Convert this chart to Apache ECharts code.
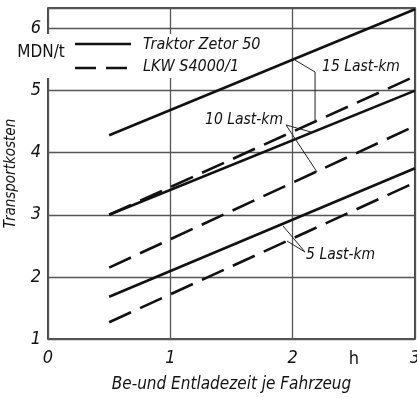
<!DOCTYPE html>
<html>
<head>
<meta charset="utf-8">
<script src="https://cdn.jsdelivr.net/npm/echarts@6/dist/echarts.min.js"></script>
<style>
html,body{margin:0;padding:0;background:#fff;}
#chart{width:417px;height:398px;}
</style>
</head>
<body>
<div id="chart"></div>
<script>
/*数据*/
var xs = [0.5, 3];
var traktor15 = [4.28, 6.31];
var traktor10 = [3.0, 5.0];
var traktor5 = [1.68, 3.75];
var lkw15 = [3.0, 5.23];
var lkw10 = [2.15, 4.43];
var lkw5 = [1.27, 3.52];
var legendNames = ['Traktor Zetor 50', 'LKW S4000/1'];
var yTicks = ['1', '2', '3', '4', '5', '6'];
var xTicks = ['0', '1', '2', '3'];

/*标注线*/
var leaders = [
	[[2.02, 5.49], [2.183, 5.30], [2.183, 4.494]],
	[[1.946, 4.446], [2.15, 4.333]],
	[[1.946, 4.446], [2.199, 3.689]],
	[[2.101, 2.401], [1.921, 2.82]],
	[[2.101, 2.401], [1.954, 2.578]]
];
var notes = [
	{text: '15 Last-km', at: [2.24, 5.38], align: 'left'},
	{text: '10 Last-km', at: [1.921, 4.527], align: 'right'},
	{text: '5 Last-km', at: [2.11, 2.353], align: 'left'}
];

var font = "'Liberation Sans Narrow','DejaVu Sans Condensed',sans-serif";

function pts(arr){
	var out = [];
	for(var i=0;i<xs.length;i++){
		out.push([xs[i], arr[i]]);
	}
	return out;
}
function mainLine(name, arr, dashed){
	return {
		name: name,
		type: 'line',
		data: pts(arr),
		showSymbol: false,
		symbol: 'none',
		silent: true,
		z: 3,
		itemStyle: {color: '#111'},
		lineStyle: {color: '#111', width: 2.6, type: dashed ? [24, 10] : 'solid'}
	};
}

var series = [
	mainLine(legendNames[0], traktor15, false),
	mainLine(legendNames[0], traktor10, false),
	mainLine(legendNames[0], traktor5, false),
	mainLine(legendNames[1], lkw15, true),
	mainLine(legendNames[1], lkw10, true),
	mainLine(legendNames[1], lkw5, true)
];
for(var i=0;i<leaders.length;i++){
	series.push({
		name: 'leader' + i,
		type: 'line',
		data: leaders[i],
		showSymbol: false,
		symbol: 'none',
		silent: true,
		z: 3,
		lineStyle: {color: '#222', width: 1}
	});
}

var myChart = echarts.init(document.getElementById('chart'));
var option = {
	animation: false,
	backgroundColor: '#fff',
	grid: {
		left: 48, right: 2, top: 8, bottom: 59,
		outerBoundsMode: 'none',
		containLabel: false,
		show: true, borderColor: '#1a1a1a', borderWidth: 1.6
	},
	xAxis: {
		type: 'value',
		min: 0, max: 3, interval: 1,
		name: 'Be-und Entladezeit je Fahrzeug',
		nameLocation: 'middle',
		nameGap: 37,
		nameTextStyle: {fontFamily: font, fontStyle: 'italic', fontSize: 17, color: '#111'},
		axisLine: {show: false},
		axisTick: {show: false},
		splitLine: {lineStyle: {color: '#555', width: 1.3}},
		axisLabel: {
			margin: 10,
			fontFamily: font, fontStyle: 'italic', fontSize: 18, color: '#111',
			formatter: function(v){ return xTicks[v] !== undefined ? xTicks[v] : ''; }
		}
	},
	yAxis: {
		type: 'value',
		min: 1, max: 6.33, interval: 1,
		name: 'Transportkosten',
		nameLocation: 'middle',
		nameGap: 29,
		nameRotate: 90,
		nameTextStyle: {fontFamily: font, fontStyle: 'italic', fontSize: 15, color: '#111'},
		axisLine: {show: false},
		axisTick: {show: false},
		splitLine: {lineStyle: {color: '#555', width: 1.3}},
		axisLabel: {
			margin: 7,
			fontFamily: font, fontStyle: 'italic', fontSize: 18, color: '#111',
			formatter: function(v){
				var k = Math.round(v);
				if(Math.abs(v - k) > 0.001) return '';
				return yTicks[k - 1] || '';
			}
		}
	},
	series: series
};
myChart.setOption(option);

/*图例和文字标注*/
var graphics = [];
graphics.push({type: 'rect', shape: {x: 30, y: 34, width: 232, height: 44}, z: 1, silent: true,
	style: {fill: '#fff'}});
graphics.push({type: 'line', shape: {x1: 75, y1: 44, x2: 131, y2: 44}, z: 10,
	style: {stroke: '#111', lineWidth: 2.6}});
graphics.push({type: 'line', shape: {x1: 75, y1: 68, x2: 131, y2: 68}, z: 10,
	style: {stroke: '#111', lineWidth: 2.6, lineDash: [21, 10]}});
for(var k=0;k<legendNames.length;k++){
	graphics.push({
		type: 'text', x: 143, y: 45 + k * 22, z: 10,
		style: {text: legendNames[k], fill: '#111', font: 'italic 16px ' + font, textVerticalAlign: 'middle'}
	});
}
for(var j=0;j<notes.length;j++){
	var p = myChart.convertToPixel({gridIndex: 0}, notes[j].at);
	graphics.push({
		type: 'text', x: p[0], y: p[1], z: 10,
		style: {text: notes[j].text, fill: '#111', font: 'italic 15.5px ' + font,
			textAlign: notes[j].align, textVerticalAlign: 'middle'}
	});
}
var hp = myChart.convertToPixel({gridIndex: 0}, [2.5, 1]);
graphics.push({
	type: 'text', x: hp[0], y: hp[1] + 20, z: 10,
	style: {text: 'h', fill: '#111', font: '18px ' + font, textAlign: 'center', textVerticalAlign: 'middle'}
});
graphics.push({
	type: 'text', x: 41, y: 53, z: 10,
	style: {text: 'MDN/t', fill: '#111', font: '17px ' + font, textAlign: 'center', textVerticalAlign: 'middle',
		backgroundColor: '#fff', padding: [10, 2]}
});
myChart.setOption({graphic: graphics});
</script>
</body>
</html>
